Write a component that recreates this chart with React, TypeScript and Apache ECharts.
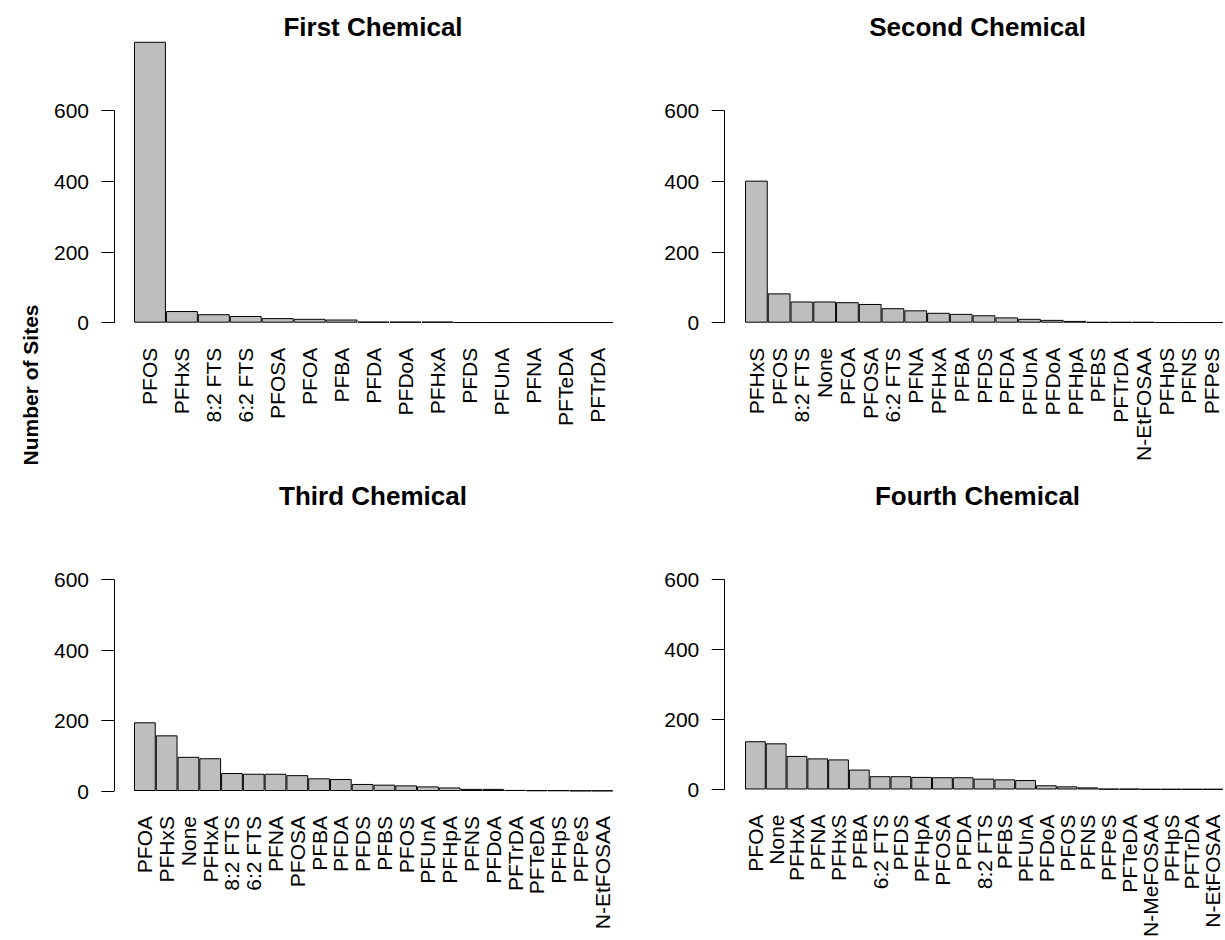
import React, { useEffect, useRef } from "react";
import * as echarts from "echarts";

// Number of sites by chemical, ranked in each position
const firstCats = ["PFOS", "PFHxS", "8:2 FTS", "6:2 FTS", "PFOSA", "PFOA", "PFBA", "PFDA", "PFDoA", "PFHxA", "PFDS", "PFUnA", "PFNA", "PFTeDA", "PFTrDA"];
const firstCounts = [795, 33, 24, 19, 13, 11, 9, 3, 3, 3, 1, 1, 1, 1, 1];

const secondCats = ["PFHxS", "PFOS", "8:2 FTS", "None", "PFOA", "PFOSA", "6:2 FTS", "PFNA", "PFHxA", "PFBA", "PFDS", "PFDA", "PFUnA", "PFDoA", "PFHpA", "PFBS", "PFTrDA", "N-EtFOSAA", "PFHpS", "PFNS", "PFPeS"];
const secondCounts = [402, 83, 60, 60, 58, 53, 41, 35, 28, 25, 21, 15, 11, 8, 5, 2, 2, 2, 1, 1, 1];

const thirdCats = ["PFOA", "PFHxS", "None", "PFHxA", "8:2 FTS", "6:2 FTS", "PFNA", "PFOSA", "PFBA", "PFDA", "PFDS", "PFBS", "PFOS", "PFUnA", "PFHpA", "PFNS", "PFDoA", "PFTrDA", "PFTeDA", "PFHpS", "PFPeS", "N-EtFOSAA"];
const thirdCounts = [195, 158, 97, 93, 51, 49, 49, 45, 36, 34, 20, 18, 16, 13, 10, 6, 6, 3, 2, 2, 1, 1];

const fourthCats = ["PFOA", "None", "PFHxA", "PFNA", "PFHxS", "PFBA", "6:2 FTS", "PFDS", "PFHpA", "PFOSA", "PFDA", "8:2 FTS", "PFBS", "PFUnA", "PFDoA", "PFOS", "PFNS", "PFPeS", "PFTeDA", "N-MeFOSAA", "PFHpS", "PFTrDA", "N-EtFOSAA"];
const fourthCounts = [138, 132, 96, 89, 86, 57, 38, 38, 36, 35, 35, 31, 29, 27, 12, 9, 6, 2, 2, 1, 1, 1, 1];

const panelTitles = ["First Chemical", "Second Chemical", "Third Chemical", "Fourth Chemical"];
const yTicks = [0, 200, 400, 600];
const yTitle = "Number of Sites";

const FONT = '"Liberation Sans", Arial, Helvetica, sans-serif';

const panels = [
  { cats: firstCats, counts: firstCounts, grid: { left: 134, top: 110.7, width: 479, height: 212 }, axisX: 114, titleX: 373, titleY: 27 },
  { cats: secondCats, counts: secondCounts, grid: { left: 745, top: 110.7, width: 478, height: 212 }, axisX: 724.3, titleX: 977.5, titleY: 27 },
  { cats: thirdCats, counts: thirdCounts, grid: { left: 134, top: 579.7, width: 479, height: 211.3 }, axisX: 114, titleX: 373, titleY: 496 },
  { cats: fourthCats, counts: fourthCounts, grid: { left: 745, top: 579.7, width: 478, height: 211.3 }, axisX: 724.3, titleX: 977.5, titleY: 496 },
];

export default function App() {
  const ref = useRef<HTMLDivElement>(null);

  useEffect(() => {
    document.body.style.margin = "0";
    if (!ref.current) return;
    const chart = echarts.init(ref.current, undefined, { renderer: "svg" });

    const option = {
      animation: false,
      backgroundColor: "#ffffff",
      grid: panels.map((p) => ({ ...p.grid, containLabel: false })),
      xAxis: panels.map((p, i) => ({
        type: "category",
        gridIndex: i,
        data: p.cats,
        boundaryGap: true,
        axisLine: { show: false },
        axisTick: { show: false },
        splitLine: { show: false },
        axisLabel: {
          interval: 0,
          rotate: 90,
          margin: 25,
          fontSize: 21,
          fontFamily: FONT,
          color: "#000",
        },
      })),
      yAxis: panels.map((p, i) => ({
        type: "value",
        gridIndex: i,
        min: yTicks[0],
        max: yTicks[yTicks.length - 1],
        interval: yTicks[1] - yTicks[0],
        offset: p.grid.left - p.axisX,
        axisLine: { show: true, lineStyle: { color: "#000", width: 1 } },
        axisTick: { show: true, length: 12.6, lineStyle: { color: "#000", width: 1 } },
        splitLine: { show: false },
        axisLabel: {
          margin: 25,
          fontSize: 21,
          fontFamily: FONT,
          color: "#000",
        },
      })),
      series: panels.map((p, i) => ({
        type: "bar",
        xAxisIndex: i,
        yAxisIndex: i,
        data: p.counts,
        barCategoryGap: "0%",
        clip: false,
        itemStyle: { color: "#bebebe", borderColor: "#000", borderWidth: 1 },
        emphasis: { disabled: true },
      })),
      graphic: [
        ...panels.map((p, i) => ({
          type: "text",
          x: p.titleX,
          y: p.titleY,
          style: {
            text: panelTitles[i],
            fill: "#000",
            fontSize: 26,
            fontWeight: "bold",
            fontFamily: FONT,
            align: "center",
            verticalAlign: "middle",
          },
        })),
        {
          type: "text",
          x: 30,
          y: 385,
          rotation: Math.PI / 2,
          style: {
            text: yTitle,
            fill: "#000",
            fontSize: 21,
            fontWeight: "bold",
            fontFamily: FONT,
            align: "center",
            verticalAlign: "middle",
          },
        },
      ],
    };

    chart.setOption(option);
    return () => chart.dispose();
  }, []);

  return (
    <div
      ref={ref}
      style={{ position: "absolute", left: 0, top: 0, width: 1225, height: 940 }}
    />
  );
}
